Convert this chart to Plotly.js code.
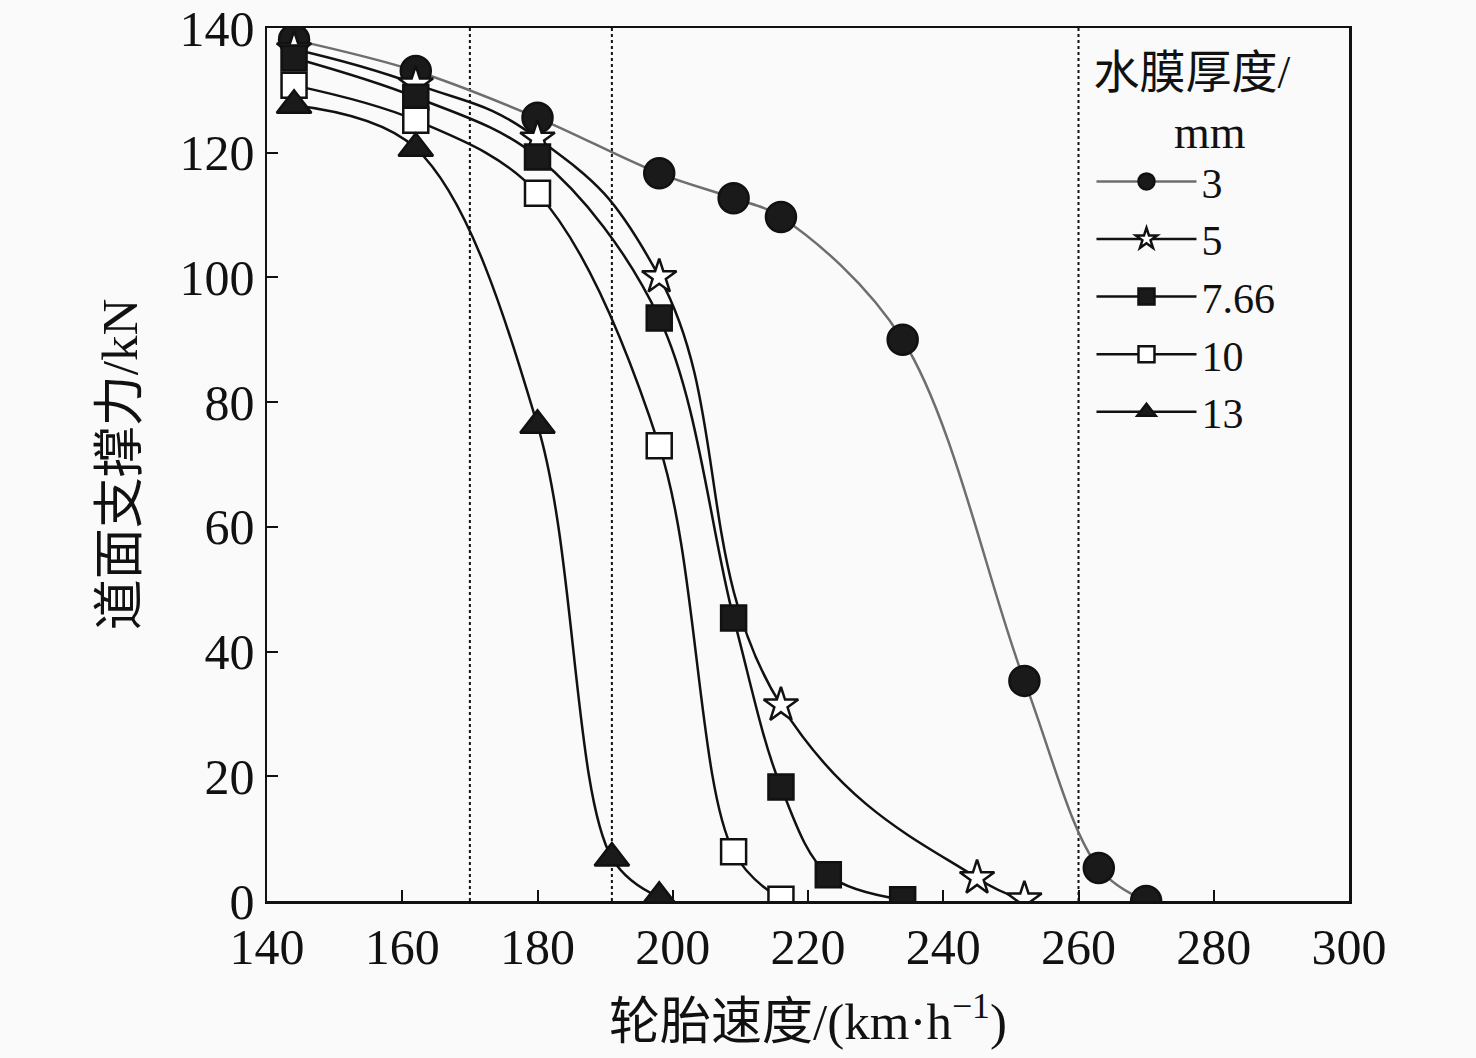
<!DOCTYPE html>
<html>
<head>
<meta charset="utf-8">
<script src="https://cdn.plot.ly/plotly-3.0.1.min.js"></script>
<style>
  html, body { margin: 0; padding: 0; background: #fafafa; }
  #plot { width: 1476px; height: 1058px; }
</style>
</head>
<body>
<div id="plot"></div>
<script>
// 水膜厚度 / mm
let thickness = ["3", "5", "7.66", "10", "13"]

// tire speed (km/h) and supporting force (kN) per film thickness
let speed3 = [144, 162, 180, 198, 209, 216, 234, 252, 263, 270]
let force3 = [138.1, 133.1, 125.6, 116.7, 112.7, 109.7, 90.0, 35.3, 5.3, 0]

let speed5 = [144, 162, 180, 198, 216, 245, 252]
let force5 = [136.6, 131.0, 122.3, 100.1, 31.4, 3.7, 0.3]

let speed766 = [144, 162, 180, 198, 209, 216, 223, 234]
let force766 = [135.2, 128.9, 119.3, 93.5, 45.4, 18.3, 4.2, 0.2]

let speed10 = [144, 162, 180, 198, 209, 216]
let force10 = [130.8, 125.2, 113.5, 73.0, 7.9, 0.3]

let speed13 = [144, 162, 180, 191, 198]
let force13 = [127.6, 120.7, 76.3, 6.9, 0.6]

// dashed reference speeds
let refSpeeds = [170, 191, 260]

let xTicks = [140, 160, 180, 200, 220, 240, 260, 280, 300]
let yTicks = [0, 20, 40, 60, 80, 100, 120, 140]

let serif = "Liberation Serif, Times New Roman, Noto Sans CJK SC, serif"

function series(name, x, y, symbol, fill, lineColor, size, smooth) {
  return {
    x: x,
    y: y,
    name: name,
    type: "scatter",
    mode: "lines+markers",
    line: { shape: "spline", smoothing: smooth, color: lineColor, width: 2.5 },
    marker: { symbol: symbol, size: size, color: fill, line: { color: "#111", width: 2.5 } },
    cliponaxis: true
  }
}

let data = [
  series(thickness[0], speed3, force3, "circle", "#1a1a1a", "#6e6e6e", 30, 1),
  series(thickness[1], speed5, force5, "star", "#ffffff", "#111", 26, 1.3),
  series(thickness[2], speed766, force766, "square", "#1a1a1a", "#111", 25, 1),
  series(thickness[3], speed10, force10, "square", "#ffffff", "#111", 25, 1),
  series(thickness[4], speed13, force13, "triangle-up", "#1a1a1a", "#111", 30, 1)
]

let shapes = refSpeeds.map(function (s) {
  return {
    type: "line", xref: "x", yref: "paper", x0: s, x1: s, y0: 0, y1: 1,
    line: { color: "#111", width: 2, dash: "dot" }, layer: "below"
  }
})

let layout = {
  width: 1476,
  height: 1058,
  paper_bgcolor: "#fafafa",
  plot_bgcolor: "#fafafa",
  margin: { l: 267, r: 127, t: 28, b: 157 },
  font: { family: serif, size: 48, color: "#111" },
  showlegend: true,
  legend: {
    x: 0.762, y: 1.0, xanchor: "left", yanchor: "top",
    bgcolor: "rgba(0,0,0,0)",
    title: {
      text: "水膜厚度/<br>&nbsp;&nbsp;&nbsp;&nbsp;&nbsp;&nbsp;&nbsp;mm",
      font: { family: serif, size: 46 }
    },
    font: { family: serif, size: 42 },
    tracegroupgap: 0,
    itemsizing: "trace",
    itemwidth: 100
  },
  xaxis: {
    range: [140, 300],
    tickvals: xTicks,
    ticks: "inside",
    ticklen: 11,
    tickwidth: 2,
    tickcolor: "#111",
    showline: true,
    linewidth: 2.5,
    linecolor: "#111",
    mirror: true,
    showgrid: false,
    zeroline: false,
    tickfont: { family: serif, size: 50 },
    title: { text: "轮胎速度/(km·h<sup>−1</sup>)", font: { family: serif, size: 51 }, standoff: 30 }
  },
  yaxis: {
    range: [0, 140],
    tickvals: yTicks,
    ticks: "inside",
    ticklen: 11,
    tickwidth: 2,
    tickcolor: "#111",
    showline: true,
    linewidth: 2.5,
    linecolor: "#111",
    mirror: true,
    showgrid: false,
    zeroline: false,
    tickfont: { family: serif, size: 50 },
    title: { text: "道面支撑力/kN", font: { family: serif, size: 51 }, standoff: 26 }
  },
  shapes: shapes
}

Plotly.newPlot("plot", data, layout, { displayModeBar: false, staticPlot: true })
</script>
</body>
</html>
